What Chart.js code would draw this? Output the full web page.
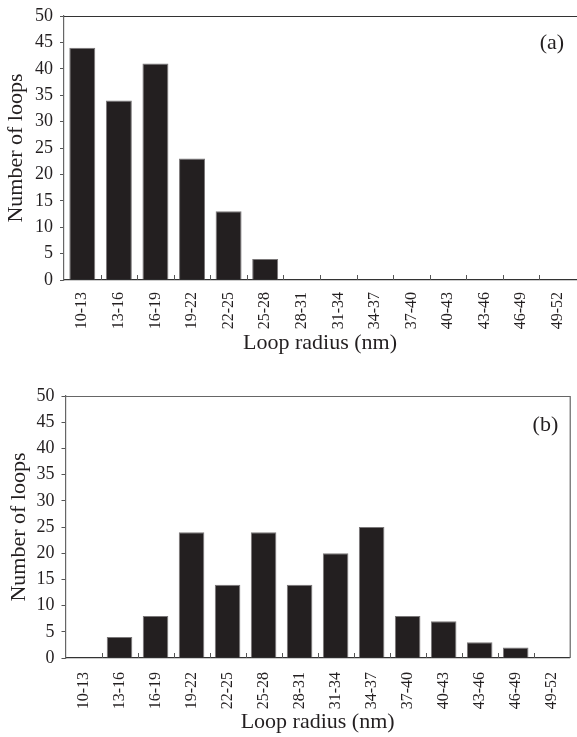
<!DOCTYPE html>
<html>
<head>
<meta charset="utf-8">
<script src="https://cdn.jsdelivr.net/npm/chart.js@4/dist/chart.umd.min.js"></script>
<style>
  html, body { margin: 0; padding: 0; background: #fff; }
  body { width: 577px; height: 737px; position: relative; overflow: hidden; }
  .wrap { position: absolute; left: 0; overflow: hidden; width: 577px; }
  #wa { top: 0; height: 370px; }
  #wb { top: 380px; height: 357px; }
</style>
</head>
<body>
<div class="wrap" id="wa"><canvas id="ca" width="581" height="370"></canvas></div>
<div class="wrap" id="wb"><canvas id="cb" width="577" height="357"></canvas></div>
<script>
const categories = ['10-13','13-16','16-19','19-22','22-25','25-28','28-31','31-34','34-37','37-40','40-43','43-46','46-49','49-52'];
const loopsA = [44, 34, 41, 23, 13, 4, 0, 0, 0, 0, 0, 0, 0, 0];
const loopsB = [0, 4, 8, 24, 14, 24, 14, 20, 25, 8, 7, 3, 2, 0];
const yTicks = [0, 5, 10, 15, 20, 25, 30, 35, 40, 45, 50];
const xTitle = 'Loop radius (nm)';
const yTitle = 'Number of loops';

const FONT = "'Liberation Serif', 'Times New Roman', serif";
const INK = '#231f20';

function panelPlugin(label, rightBorder, labelRight, labelDy) {
  return {
    id: 'panel' + label.replace(/\W/g, ''),
    afterDatasetsDraw(chart) {
      const ctx = chart.ctx;
      const a = chart.chartArea;
      const xs = chart.scales.x;
      ctx.save();
      // inward tick marks at category boundaries
      ctx.strokeStyle = '#555';
      ctx.lineWidth = 1;
      ctx.beginPath();
      for (let i = 1; i < categories.length; i++) {
        const px = Math.round((xs.getPixelForValue(i - 1) + xs.getPixelForValue(i)) / 2) + 0.5;
        ctx.moveTo(px, a.bottom);
        ctx.lineTo(px, a.bottom - 5);
      }
      ctx.stroke();
      // top (and right) frame
      ctx.strokeStyle = rightBorder ? '#666' : '#333';
      ctx.lineWidth = 1.2;
      ctx.beginPath();
      ctx.moveTo(a.left, a.top + 0.5);
      ctx.lineTo(rightBorder ? a.right + 0.5 : chart.width, a.top + 0.5);
      if (rightBorder) ctx.lineTo(a.right + 0.5, a.bottom);
      ctx.stroke();
      // panel label
      ctx.fillStyle = INK;
      ctx.font = '22px ' + FONT;
      ctx.textAlign = 'right';
      ctx.textBaseline = 'middle';
      ctx.fillText(label, a.right - labelRight, a.top + labelDy);
      ctx.restore();
    }
  };
}

function makeChart(id, values, label, opts) {
  return new Chart(document.getElementById(id), {
    type: 'bar',
    data: {
      labels: categories,
      datasets: [{
        data: values,
        backgroundColor: INK,
        borderColor: '#7a7778',
        borderWidth: 1,
        barPercentage: 0.71,
        categoryPercentage: 1.0
      }]
    },
    options: {
      responsive: false,
      animation: false,
      events: [],
      layout: { padding: { top: opts.top, right: opts.right, left: 0, bottom: 0 } },
      plugins: { legend: { display: false }, tooltip: { enabled: false } },
      scales: {
        x: {
          offset: true,
          grid: { display: false, offset: true },
          border: { display: true, color: '#333', width: 1.2 },
          ticks: {
            color: INK, font: { family: FONT, size: 16 },
            minRotation: 90, maxRotation: 90, autoSkip: false, padding: opts.xTickPad
          },
          title: {
            display: true, text: xTitle, color: INK,
            font: { family: FONT, size: 22 },
            padding: { top: 0, bottom: opts.xTitlePad }
          },
          afterFit(s) { s.height = opts.xHeight; }
        },
        y: {
          min: 0, max: 50,
          afterBuildTicks(s) { s.ticks = yTicks.map(v => ({ value: v })); },
          grid: { display: true, drawOnChartArea: false, drawTicks: true, tickLength: 4, color: '#555' },
          border: { display: true, color: '#666', width: 1.2 },
          ticks: { color: INK, font: { family: FONT, size: 18, lineHeight: 1 }, padding: 7 },
          title: {
            display: true, text: yTitle, color: INK,
            font: { family: FONT, size: 22 },
            padding: { top: opts.yTitlePad, bottom: 0 }
          },
          afterFit(s) { s.width = opts.yWidth; }
        }
      }
    },
    plugins: [panelPlugin(label, opts.rightBorder, opts.labelRight, opts.labelDy)]
  });
}

makeChart('ca', loopsA, '(a)', { top: 14, right: 0.5, xHeight: 90, yWidth: 64, xTitlePad: 14, xTickPad: 4, yTitlePad: 3, rightBorder: false, labelRight: 12, labelDy: 27 });
makeChart('cb', loopsB, '(b)', { top: 15, right: 2.5, xHeight: 79, yWidth: 65.5, xTitlePad: 2, xTickPad: 6, yTitlePad: 6, rightBorder: true, labelRight: 11.5, labelDy: 29 });
</script>
</body>
</html>
